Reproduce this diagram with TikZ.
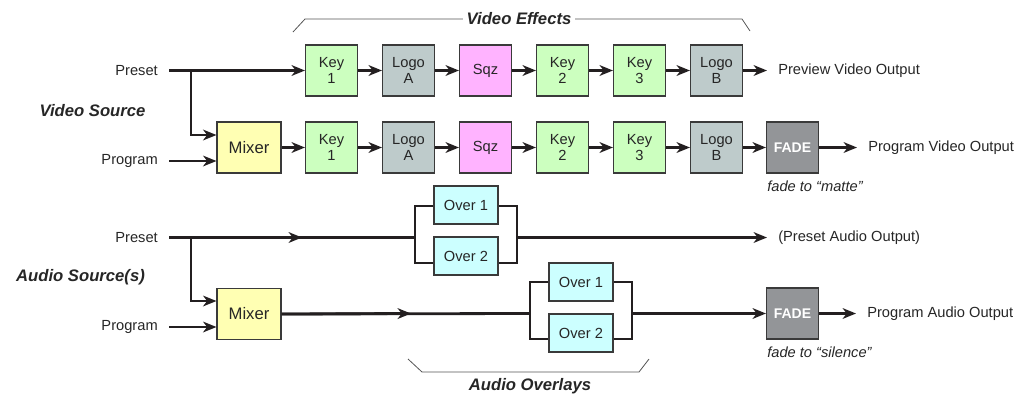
\documentclass[tikz,border=0pt]{standalone}
\usepackage{fontspec}
\setmainfont{Liberation Sans}
\usetikzlibrary{arrows.meta}
\definecolor{keyg}{HTML}{CCFFBF}
\definecolor{logog}{HTML}{BECBCB}
\definecolor{sqzp}{HTML}{FFB3FF}
\definecolor{mixy}{HTML}{FFFFB3}
\definecolor{overc}{HTML}{CCFFFF}
\definecolor{fadeg}{HTML}{939598}
\definecolor{bord}{HTML}{3A3A3A}
\definecolor{ln}{HTML}{231F20}
\definecolor{txt}{HTML}{262626}
\definecolor{brkc}{HTML}{555555}
\begin{document}
\begin{tikzpicture}[x=0.75pt,y=-0.75pt,
  every node/.style={font=\fontsize{11}{12}\selectfont, text=txt},
  box/.style={draw=bord, line width=0.8pt, minimum width=39pt, minimum height=38.25pt, inner sep=0pt, align=center},
  keybox/.style={box, fill=keyg},
  logobox/.style={box, fill=logog},
  sqzbox/.style={box, fill=sqzp},
  mixbox/.style={box, fill=mixy, minimum width=48pt, font=\fontsize{12.5}{14}\selectfont},
  fadebox/.style={box, fill=fadeg, text=white, font=\bfseries\fontsize{10.5}{12}\selectfont},
  overbox/.style={box, fill=overc, minimum width=48pt, minimum height=28.5pt},
  inlabel/.style={anchor=east, inner xsep=8.25pt, inner ysep=2pt},
  outlabel/.style={anchor=west, inner xsep=8.25pt, inner ysep=2pt},
  note/.style={anchor=west, inner sep=0pt, font=\itshape\fontsize{11}{12}\selectfont},
  grp/.style={font=\bfseries\itshape\fontsize{12.5}{14}\selectfont, inner sep=0pt},
  conn/.style={draw=ln, line width=2.1pt, -{Stealth[length=10pt,width=8pt,inset=3pt]}},
  plain/.style={draw=ln, line width=2.1pt},
  brk/.style={draw=brkc, line width=0.6pt}
]
\useasboundingbox (0,0) rectangle (1021,394);

% ---------- Video ----------
\node[inlabel] (vpre) at (169,70.5) {Preset};
\node[inlabel] (vprog) at (169,161) {Program};
\node[grp] (vsrc) at (92.5,111) {Video Source};

\node[keybox]  (vk1)  at (331.5,70.5) {Key\\1};
\node[logobox] (vla)  at (408.5,70.5) {Logo\\A};
\node[sqzbox]  (vsq)  at (485.5,70.5) {Sqz};
\node[keybox]  (vk2)  at (562.5,70.5) {Key\\2};
\node[keybox]  (vk3)  at (639.5,70.5) {Key\\3};
\node[logobox] (vlb)  at (716.5,70.5) {Logo\\B};
\node[outlabel] (pvo) at (767,70.5) {Preview Video Output};

\node[mixbox]  (vmix) at (249,147.5) {Mixer};
\node[keybox]  (wk1)  at (331.5,147.5) {Key\\1};
\node[logobox] (wla)  at (408.5,147.5) {Logo\\A};
\node[sqzbox]  (wsq)  at (485.5,147.5) {Sqz};
\node[keybox]  (wk2)  at (562.5,147.5) {Key\\2};
\node[keybox]  (wk3)  at (639.5,147.5) {Key\\3};
\node[logobox] (wlb)  at (716.5,147.5) {Logo\\B};
\node[fadebox] (vfade) at (792.5,147.5) {FADE};
\node[outlabel] (pgvo) at (857,147.5) {Program Video Output};
\node[note] (matte) at (767,186) {fade to “matte”};

\coordinate (vbr) at (191,70.5);
\coordinate (vmixin) at (vmix.west |- 0,135);
\draw[conn] (vpre.east) -- (vk1.west);
\draw[conn] (vbr) |- (vmixin);
\draw[conn] (vprog.east) -- (vprog.east -| vmix.west);
\foreach \a/\b in {vk1/vla,vla/vsq,vsq/vk2,vk2/vk3,vk3/vlb,vlb/pvo,
                   vmix/wk1,wk1/wla,wla/wsq,wsq/wk2,wk2/wk3,wk3/wlb,wlb/vfade,vfade/pgvo}
  \draw[conn] (\a.east) -- (\b.west);

\draw[brk] (293,32) -- (305,19) -- (742,19) -- (750,31);
\node[grp, fill=white, inner xsep=3pt, inner ysep=1pt] (veff) at (519,19) {Video Effects};

% ---------- Audio ----------
\node[inlabel] (apre) at (169,237.5) {Preset};
\node[inlabel] (aprog) at (169,327) {Program};
\node[grp] (asrc) at (80.5,277) {Audio Source(s)};

\node[mixbox] (amix) at (249,314) {Mixer};
\node[overbox] (ao1) at (466,205) {Over 1};
\node[overbox] (ao2) at (466,256) {Over 2};
\node[overbox] (bo1) at (581,282) {Over 1};
\node[overbox] (bo2) at (581,333) {Over 2};
\node[fadebox] (afade) at (792.5,313.5) {FADE};
\node[outlabel] (papo) at (767,237.5) {(Preset Audio Output)};
\node[outlabel] (pgao) at (856,313.5) {Program Audio Output};
\node[note] (silence) at (767,352) {fade to “silence”};

% preset audio path
\coordinate (abr) at (191,237.5);
\coordinate (amid1) at (302,237.5);
\coordinate (aL) at (415,237.5);
\coordinate (aLt) at (415,206);
\coordinate (aLb) at (415,263);
\coordinate (aR) at (517,237.5);
\coordinate (aRt) at (517,206);
\coordinate (aRb) at (517,263);
\draw[plain] (apre.east) -- (aL);
\draw[conn] (apre.east) -- (amid1);
\draw[plain] (aLt -| ao1.west) -- (aLt) -- (aLb) -- (aLb -| ao2.west);
\draw[plain] (aRt -| ao1.east) -- (aRt) -- (aRb) -- (aRb -| ao2.east);
\draw[conn] (aR) -- (papo.west);

% program audio path
\coordinate (amixin) at (amix.west |- 0,301);
\draw[conn] (abr) |- (amixin);
\draw[conn] (aprog.east) -- (aprog.east -| amix.west);
\coordinate (amid2) at (411,313.5);
\coordinate (bL) at (530,313.5);
\coordinate (bLt) at (530,282);
\coordinate (bLb) at (530,339);
\coordinate (bR) at (632,313.5);
\coordinate (bRt) at (632,282);
\coordinate (bRb) at (632,339);
\draw[plain] (amix.east) -- (bL);
\draw[conn] (amix.east) -- (amid2);
\draw[plain] (bLt -| bo1.west) -- (bLt) -- (bLb) -- (bLb -| bo2.west);
\draw[plain] (bRt -| bo1.east) -- (bRt) -- (bRb) -- (bRb -| bo2.east);
\draw[conn] (bR) -- (afade.west);
\draw[conn] (afade.east) -- (pgao.west);

\draw[brk] (408,359) -- (422,372) -- (639,372) -- (649,359);
\node[grp] (aov) at (530,386) {Audio Overlays};
\end{tikzpicture}
\end{document}
